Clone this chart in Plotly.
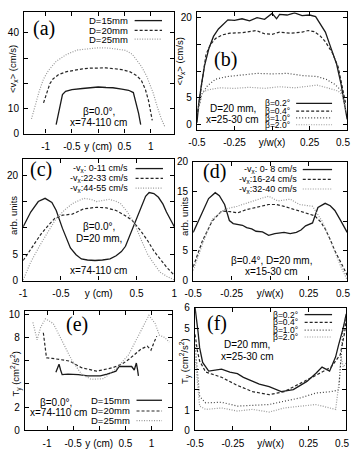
import plotly.graph_objects as go

W, H = 361, 453

# ---------------- data ----------------
# (a) <v_x> vs y (cm)
a_x15 = [-0.80, -0.74, -0.68, -0.62, -0.50, -0.30, -0.14, 0.0, 0.15, 0.28, 0.45, 0.58, 0.67, 0.72, 0.77, 0.81]
a_y15 = [3.5, 10, 15.5, 16.8, 17.5, 17.9, 18.3, 18.5, 18.3, 18.2, 17.7, 17.2, 16.3, 12.5, 8, 3.5]
a_x20 = [-1.04, -0.98, -0.92, -0.86, -0.75, -0.6, -0.45, -0.3, -0.15, 0, 0.15, 0.3, 0.45, 0.6, 0.72, 0.82, 0.9, 0.96, 1.0, 1.03]
a_y20 = [12.2, 16.5, 19.8, 21.7, 23.5, 24.6, 25.2, 25.7, 26.0, 26.2, 26.1, 25.8, 25.4, 24.6, 23.2, 21.3, 17.5, 13, 9, 5.2]
a_x25 = [-1.27, -1.2, -1.12, -1.04, -0.95, -0.8, -0.6, -0.4, -0.2, 0, 0.2, 0.4, 0.52, 0.65, 0.75, 0.82, 0.92, 1.0, 1.05, 1.12, 1.2, 1.27]
a_y25 = [5.8, 11, 17, 21.7, 25, 28.7, 31.5, 33.2, 33.8, 34.1, 34.0, 33.5, 33.1, 31.5, 29, 26.8, 23, 19, 16, 11, 6, 2.7]

# (b) <v_x> vs y/w(x)
b_x02 = [-0.5, -0.49, -0.473, -0.45, -0.42, -0.39, -0.357, -0.32, -0.294, -0.25, -0.2, -0.15, -0.1, -0.05, 0, 0.03, 0.05, 0.1, 0.15, 0.2, 0.25, 0.29, 0.32, 0.355, 0.39, 0.43, 0.46, 0.48, 0.5]
b_y02 = [0.4, 3.5, 7, 11, 14.3, 16.5, 17.9, 19.0, 19.6, 19.5, 19.8, 19.4, 20.0, 19.7, 20.8, 19.8, 20.6, 20.5, 20.9, 20.4, 20.5, 20.2, 18.8, 17.3, 14.5, 11.3, 7.5, 4.6, 1.0]
b_x04 = [-0.5, -0.48, -0.46, -0.44, -0.41, -0.377, -0.33, -0.28, -0.2, -0.106, -0.05, 0, 0.05, 0.12, 0.2, 0.24, 0.28, 0.32, 0.355, 0.4, 0.44, 0.47, 0.49]
b_y04 = [1.5, 5.5, 9.5, 13.1, 15, 16.1, 16.8, 17.1, 17.2, 17.6, 17.0, 16.9, 17.3, 17.1, 17.3, 17.6, 17.4, 16.6, 15.5, 13.5, 10.8, 7, 4]
b_x10 = [-0.49, -0.466, -0.43, -0.377, -0.3, -0.2, -0.1, 0, 0.1, 0.2, 0.3, 0.36, 0.42, 0.46, 0.49]
b_y10 = [3, 5.8, 7.3, 8.5, 9.0, 9.3, 9.6, 9.5, 9.6, 9.2, 9.0, 8.5, 7.5, 6.4, 3]
b_x20 = [-0.49, -0.466, -0.43, -0.35, -0.25, -0.15, -0.05, 0.05, 0.15, 0.25, 0.3, 0.38, 0.44, 0.47, 0.49]
b_y20 = [3, 6.0, 6.5, 6.9, 6.8, 7.0, 6.8, 7.1, 6.9, 7.2, 7.4, 6.8, 6.3, 5.5, 2.5]

# (c) distributions vs y (cm)
c_x1 = [-1, -0.9, -0.8, -0.71, -0.62, -0.5625, -0.48, -0.42, -0.375, -0.3, -0.23, -0.15, -0.05, 0.05, 0.15, 0.23, 0.3, 0.354, 0.41, 0.46, 0.5625, 0.62, 0.667, 0.73, 0.79, 0.85, 0.896, 0.95, 1]
c_y1 = [10.2, 13, 15, 15.6, 14.8, 13.3, 9.9, 7.7, 6.2, 4.9, 4.1, 3.9, 3.8, 3.9, 4.1, 4.7, 5.5, 6.5, 8.5, 10.6, 14.3, 16, 16.7, 16.5, 15.8, 14.5, 13, 11.5, 10.2]
c_x2 = [-1, -0.9, -0.77, -0.66, -0.58, -0.48, -0.35, -0.2, -0.03, 0.1, 0.23, 0.33, 0.4375, 0.5625, 0.65, 0.73, 0.82, 0.9, 1]
c_y2 = [3.8, 6, 8.7, 10.6, 11.8, 12.4, 12.6, 13.6, 13.9, 13.8, 13.3, 12.5, 11.5, 9.3, 7.5, 5.6, 4.0, 2.5, 1]
c_x3 = [-1, -0.9, -0.77, -0.66, -0.5625, -0.45, -0.35, -0.2, -0.1, -0.03, 0.05, 0.14, 0.22, 0.29, 0.38, 0.48, 0.56, 0.646, 0.73, 0.81, 0.9, 1]
c_y3 = [0.1, 3.5, 6.9, 9.5, 11.8, 13.4, 14.6, 15.6, 15.4, 15.0, 15.2, 15.4, 15.1, 14.6, 13.0, 10.6, 7.8, 5.0, 3.2, 1.6, 0.8, 0.1]

# (d) distributions vs y/w(x)
d_x1 = [-0.5, -0.45, -0.4, -0.357, -0.33, -0.296, -0.265, -0.24, -0.215, -0.18, -0.153, -0.12, -0.092, -0.05, -0.01, 0.03, 0.09, 0.13, 0.17, 0.2, 0.23, 0.275, 0.31, 0.357, 0.39, 0.42, 0.46, 0.5]
d_y1 = [8.1, 11, 13.8, 14.8, 14.3, 12.8, 10.1, 9.6, 9.5, 9.3, 8.9, 8.7, 8.3, 8.2, 7.6, 7.9, 8.1, 7.9, 8.1, 8.5, 9.2, 9.7, 12.3, 13, 12.6, 11.8, 10, 8.1]
d_x2 = [-0.5, -0.44, -0.377, -0.315, -0.26, -0.21, -0.16, -0.11, -0.06, -0.01, 0.04, 0.09, 0.19, 0.29, 0.33, 0.357, 0.39, 0.42, 0.46, 0.5]
d_y2 = [2.3, 6.7, 10, 11.7, 11.6, 11.4, 11.9, 12.2, 12.5, 12.8, 12.8, 12.5, 11.7, 10.9, 9.8, 8.7, 6.9, 5, 3, 0.9]
d_x3 = [-0.5, -0.44, -0.377, -0.296, -0.215, -0.16, -0.11, -0.05, -0.01, 0.05, 0.13, 0.19, 0.275, 0.337, 0.37, 0.4, 0.46, 0.5]
d_y3 = [1.7, 6.1, 10.3, 12, 12.5, 13.0, 13.4, 13.9, 14.2, 13.4, 13.7, 12.8, 12.5, 10, 8, 6.1, 2.3, 0.1]

# (e) T_y vs y (cm)
e_x15 = [-0.83, -0.8, -0.77, -0.74, -0.71, -0.6, -0.52, -0.4, -0.22, 0.02, 0.15, 0.32, 0.38, 0.5, 0.62, 0.67, 0.71, 0.73, 0.75]
e_y15 = [5.0, 5.3, 5.7, 5.2, 4.8, 4.85, 4.85, 4.8, 4.7, 4.7, 4.85, 5.1, 5.5, 5.5, 5.5, 5.2, 5.8, 5.3, 4.7]
e_x20 = [-1.07, -1.04, -1.01, -0.9, -0.8, -0.57, -0.34, -0.05, 0.26, 0.45, 0.56, 0.7, 0.8, 0.92, 0.99, 1.05, 1.1]
e_y20 = [8.4, 7.2, 6.25, 6.2, 6.15, 5.97, 5.4, 5.1, 5.4, 5.75, 6.1, 6.6, 7.0, 7.25, 6.9, 7.6, 8.1]
e_x25 = [-1.27, -1.19, -1.12, -1.03, -0.88, -0.7, -0.52, -0.34, -0.16, 0.08, 0.32, 0.56, 0.74, 0.86, 0.95, 1.07, 1.15, 1.25, 1.34]
e_y25 = [9.3, 7.8, 8.9, 9.6, 9.2, 7.6, 6.0, 4.85, 4.4, 4.45, 5.3, 6.5, 8.1, 9.2, 9.9, 9.2, 8.2, 8.0, 7.6]

# (f) T_y vs y/w(x)
f_x02 = [-0.5, -0.49, -0.48, -0.47, -0.45, -0.41, -0.37, -0.325, -0.27, -0.22, -0.18, -0.14, -0.075, -0.01, 0.07, 0.15, 0.24, 0.3, 0.34, 0.39, 0.43, 0.45, 0.48, 0.5]
f_y02 = [6.0, 5.5, 4.8, 4.05, 3.33, 2.9, 2.95, 3.0, 2.85, 2.78, 2.6, 2.46, 2.27, 2.14, 1.9, 2.0, 2.4, 2.8, 3.1, 2.9, 3.6, 4.2, 5.0, 5.7]
f_x04 = [-0.5, -0.485, -0.47, -0.43, -0.325, -0.22, -0.12, -0.01, 0.09, 0.2, 0.3, 0.4, 0.46, 0.49, 0.5]
f_y04 = [4.7, 3.9, 3.4, 2.86, 2.6, 2.2, 1.9, 1.75, 1.9, 2.3, 2.7, 3.1, 3.7, 4.8, 5.5]
f_x10 = [-0.5, -0.485, -0.47, -0.43, -0.325, -0.22, -0.12, -0.01, 0.09, 0.2, 0.3, 0.4, 0.45, 0.465, 0.48, 0.5]
f_y10 = [4.2, 2.8, 1.67, 1.35, 1.38, 1.19, 1.22, 1.27, 1.43, 1.6, 1.83, 1.9, 1.98, 3.5, 5.0, 5.6]
f_x20 = [-0.5, -0.485, -0.47, -0.43, -0.325, -0.22, -0.12, -0.01, 0.09, 0.2, 0.3, 0.39, 0.43, 0.455, 0.465, 0.48, 0.5]
f_y20 = [3.6, 2.2, 1.19, 1.03, 1.1, 0.95, 1.03, 0.9, 1.1, 1.19, 1.27, 1.1, 1.03, 2.5, 3.65, 3.1, 3.3]

# tick labels
NB = "\u00a0"
xt_cm_vals = [-1, -0.5, 0, 0.5, 1]
xt_cm_text = ["-1", "-0.5", "y (cm)", "0.5", "1"]
xt_w_vals = [-0.5, -0.25, 0, 0.25, 0.5]
xt_w_text = ["-0.5", "-0.25", "y/w(x)", "0.25", "0.5" + NB * 3]

# ---------------- styles ----------------
S_SOLID = dict(color="#1a1a1a", width=1.3, dash="solid")
S_DASH = dict(color="#262626", width=1.2, dash="3px,2px")
S_DOT = dict(color="#444444", width=1.2, dash="1px,2px")
S_GRAY = dict(color="#9a9a9a", width=1.2, dash="1px,1.5px")

FONT = "Liberation Sans, Arial, Helvetica, sans-serif"
SERIF = "Liberation Serif, Times New Roman, serif"

fig = go.Figure()

# panel geometry in pixels: (left, right, top, bottom)
panels = {
    1: (16, 175, 6, 131),
    2: (199, 358, 6.5, 127.5),
    3: (15, 175, 157, 282),
    4: (195, 358, 160, 282),
    5: (17, 173, 313, 436),
    6: (197, 357, 310, 436),
}
xranges = {1: [-1.41, 1.45], 2: [-0.5, 0.5], 3: [-1, 1], 4: [-0.5, 0.5], 5: [-1.42, 1.40], 6: [-0.5, 0.5]}
yranges = {1: [0, 48.4], 2: [-1, 21], 3: [0, 23.1], 4: [0, 20], 5: [0, 10.3], 6: [0, 6]}
ytv = {1: [0, 10, 20, 30, 40], 2: [0, 5, 10, 15, 20], 3: [0, 5, 10, 15, 20], 4: [0, 5, 10, 15, 20],
       5: [0, 2, 4, 6, 8, 10], 6: [0, 1, 2, 3, 4, 5, 6]}
ytt = {1: ["0", "10", "", "", "40"], 2: ["0", "5", "", "", "20"], 3: ["0", "5", "", "", "20"],
       4: ["0", "5", "", "15", "20"], 5: ["0", "2", "", "", "8", "10"], 6: ["0", "1", "", "", "", "5", "6"]}

layout_axes = {}
for i, (l, r, t, b) in panels.items():
    sx = "" if i == 1 else str(i)
    cm = i in (1, 3, 5)
    common = dict(showline=True, mirror="allticks", linecolor="black", linewidth=1.3,
                  ticks="inside", ticklen=4, tickwidth=1, tickcolor="black",
                  showgrid=False, zeroline=False, ticklabeloverflow="allow",
                  tickfont=dict(family=FONT, size=10, color="black"))
    layout_axes["xaxis" + sx] = dict(domain=[l / W, r / W], range=xranges[i], anchor="y" + sx,
                                     tickmode="array",
                                     tickvals=xt_cm_vals if cm else xt_w_vals,
                                     ticktext=xt_cm_text if cm else xt_w_text,
                                     ticklabelstandoff=3, **common)
    layout_axes["yaxis" + sx] = dict(domain=[1 - b / H, 1 - t / H], range=yranges[i], anchor="x" + sx,
                                     tickmode="array", tickvals=ytv[i], ticktext=ytt[i],
                                     ticklabelstandoff=2, **common)


def add(i, x, y, style):
    sx = "" if i == 1 else str(i)
    fig.add_trace(go.Scatter(x=x, y=y, mode="lines", line=style, xaxis="x" + sx, yaxis="y" + sx,
                             showlegend=False, hoverinfo="skip"))


add(1, a_x15, a_y15, S_SOLID)
add(1, a_x20, a_y20, S_DASH)
add(1, a_x25, a_y25, S_GRAY)
add(2, b_x02, b_y02, S_SOLID)
add(2, b_x04, b_y04, S_DASH)
add(2, b_x10, b_y10, S_DOT)
add(2, b_x20, b_y20, S_GRAY)
add(3, c_x1, c_y1, S_SOLID)
add(3, c_x2, c_y2, S_DASH)
add(3, c_x3, c_y3, S_GRAY)
add(4, d_x1, d_y1, S_SOLID)
add(4, d_x2, d_y2, S_DASH)
add(4, d_x3, d_y3, S_GRAY)
add(5, e_x15, e_y15, S_SOLID)
add(5, e_x20, e_y20, S_DASH)
add(5, e_x25, e_y25, S_GRAY)
add(6, f_x02, f_y02, S_SOLID)
add(6, f_x04, f_y04, S_DASH)
add(6, f_x10, f_y10, S_DOT)
add(6, f_x20, f_y20, S_GRAY)

ann = []
shapes = []


def px(x):
    return x / W


def py(y):
    return 1 - y / H


def text(x, y, s, size=10, anchor="center", family=FONT, angle=0):
    ann.append(dict(x=px(x), y=py(y), xref="paper", yref="paper", text=s, showarrow=False,
                    xanchor=anchor, yanchor="middle", textangle=angle,
                    font=dict(family=family, size=size, color="black")))


def legend(xr, x0, x1, ys, labels, styles, size=9):
    for yy, lab, st in zip(ys, labels, styles):
        text(xr, yy, lab, size=size, anchor="right")
        shapes.append(dict(type="line", xref="paper", yref="paper", x0=px(x0), x1=px(x1),
                           y0=py(yy), y1=py(yy), line=st))


# panel letters
for (x, y, s) in [(37, 23, "(a)"), (229, 55, "(b)"), (34, 168, "(c)"), (218, 170, "(d)"),
                  (72, 327, "(e)"), (220, 326, "(f)")]:
    text(x, y, s, size=20, family=SERIF)

# y-axis titles
text(5, 65, "&lt;v<sub>x</sub>&gt; (cm/s)", size=9.5, angle=-90)
text(182, 57, "&lt;v<sub>x</sub>&gt; (cm/s)", size=9.5, angle=-90)
text(5, 215, "arb. units", size=9.5, angle=-90)
text(186, 216, "arb. units", size=9.5, angle=-90)
text(7, 378, "T<sub>y</sub> (cm<sup>2</sup>/s<sup>2</sup>)", size=9.5, angle=-90)
text(187, 365, "T<sub>y</sub> (cm<sup>2</sup>/s<sup>2</sup>)", size=9.5, angle=-90)

# legends
BETA = ["β=0.2°", "β=0.4°", "β=1.0°", "β=2.0°"]
legend(128, 133, 162, [15, 25, 34], ["D=15mm", "D=20mm", "D=25mm"], [S_SOLID, S_DASH, S_GRAY], size=9.5)
legend(300, 304, 342, [100, 108, 115, 122], BETA, [S_SOLID, S_DASH, S_DOT, S_GRAY], size=8.5)
legend(128, 134, 163, [167, 177, 187],
       ["-v<sub>x</sub>: 0-11 cm/s", "-v<sub>x</sub>:22-33 cm/s", "-v<sub>x</sub>:44-55 cm/s"],
       [S_SOLID, S_DASH, S_GRAY], size=9)
legend(307, 311, 342, [168, 178, 188],
       ["-v<sub>x</sub>: 0- 8 cm/s", "-v<sub>x</sub>:16-24 cm/s", "-v<sub>x</sub>:32-40 cm/s"],
       [S_SOLID, S_DASH, S_GRAY], size=9)
legend(130, 135, 162, [405, 416, 426], ["D=15mm", "D=20mm", "D=25mm"], [S_SOLID, S_DASH, S_GRAY], size=9.5)
legend(308, 313, 342, [317, 325, 333, 340], BETA, [S_SOLID, S_DASH, S_DOT, S_GRAY], size=8.5)

# in-panel texts
text(95, 108, "β=0.0°,")
text(95, 120, "x=74-110 cm")
text(237, 105, "D=20 mm,")
text(237, 117, "x=25-30 cm")
text(95, 227, "β=0.0°,")
text(95, 239, "D=20 mm,")
text(95, 272, "x=74-110 cm")
text(278, 261, "β=0.4°, D=20 mm,")
text(278, 273, "x=15-30 cm")
text(50, 407, "β=0.0°,")
text(52, 418, "x=74-110 cm")
text(252, 348, "D=20 mm,")
text(252, 360, "x=25-30 cm")

fig.update_layout(width=W, height=H, autosize=False, margin=dict(l=0, r=0, t=0, b=0),
                  paper_bgcolor="white", plot_bgcolor="white", showlegend=False,
                  annotations=ann, shapes=shapes, **layout_axes)

fig.write_html("out.html")
